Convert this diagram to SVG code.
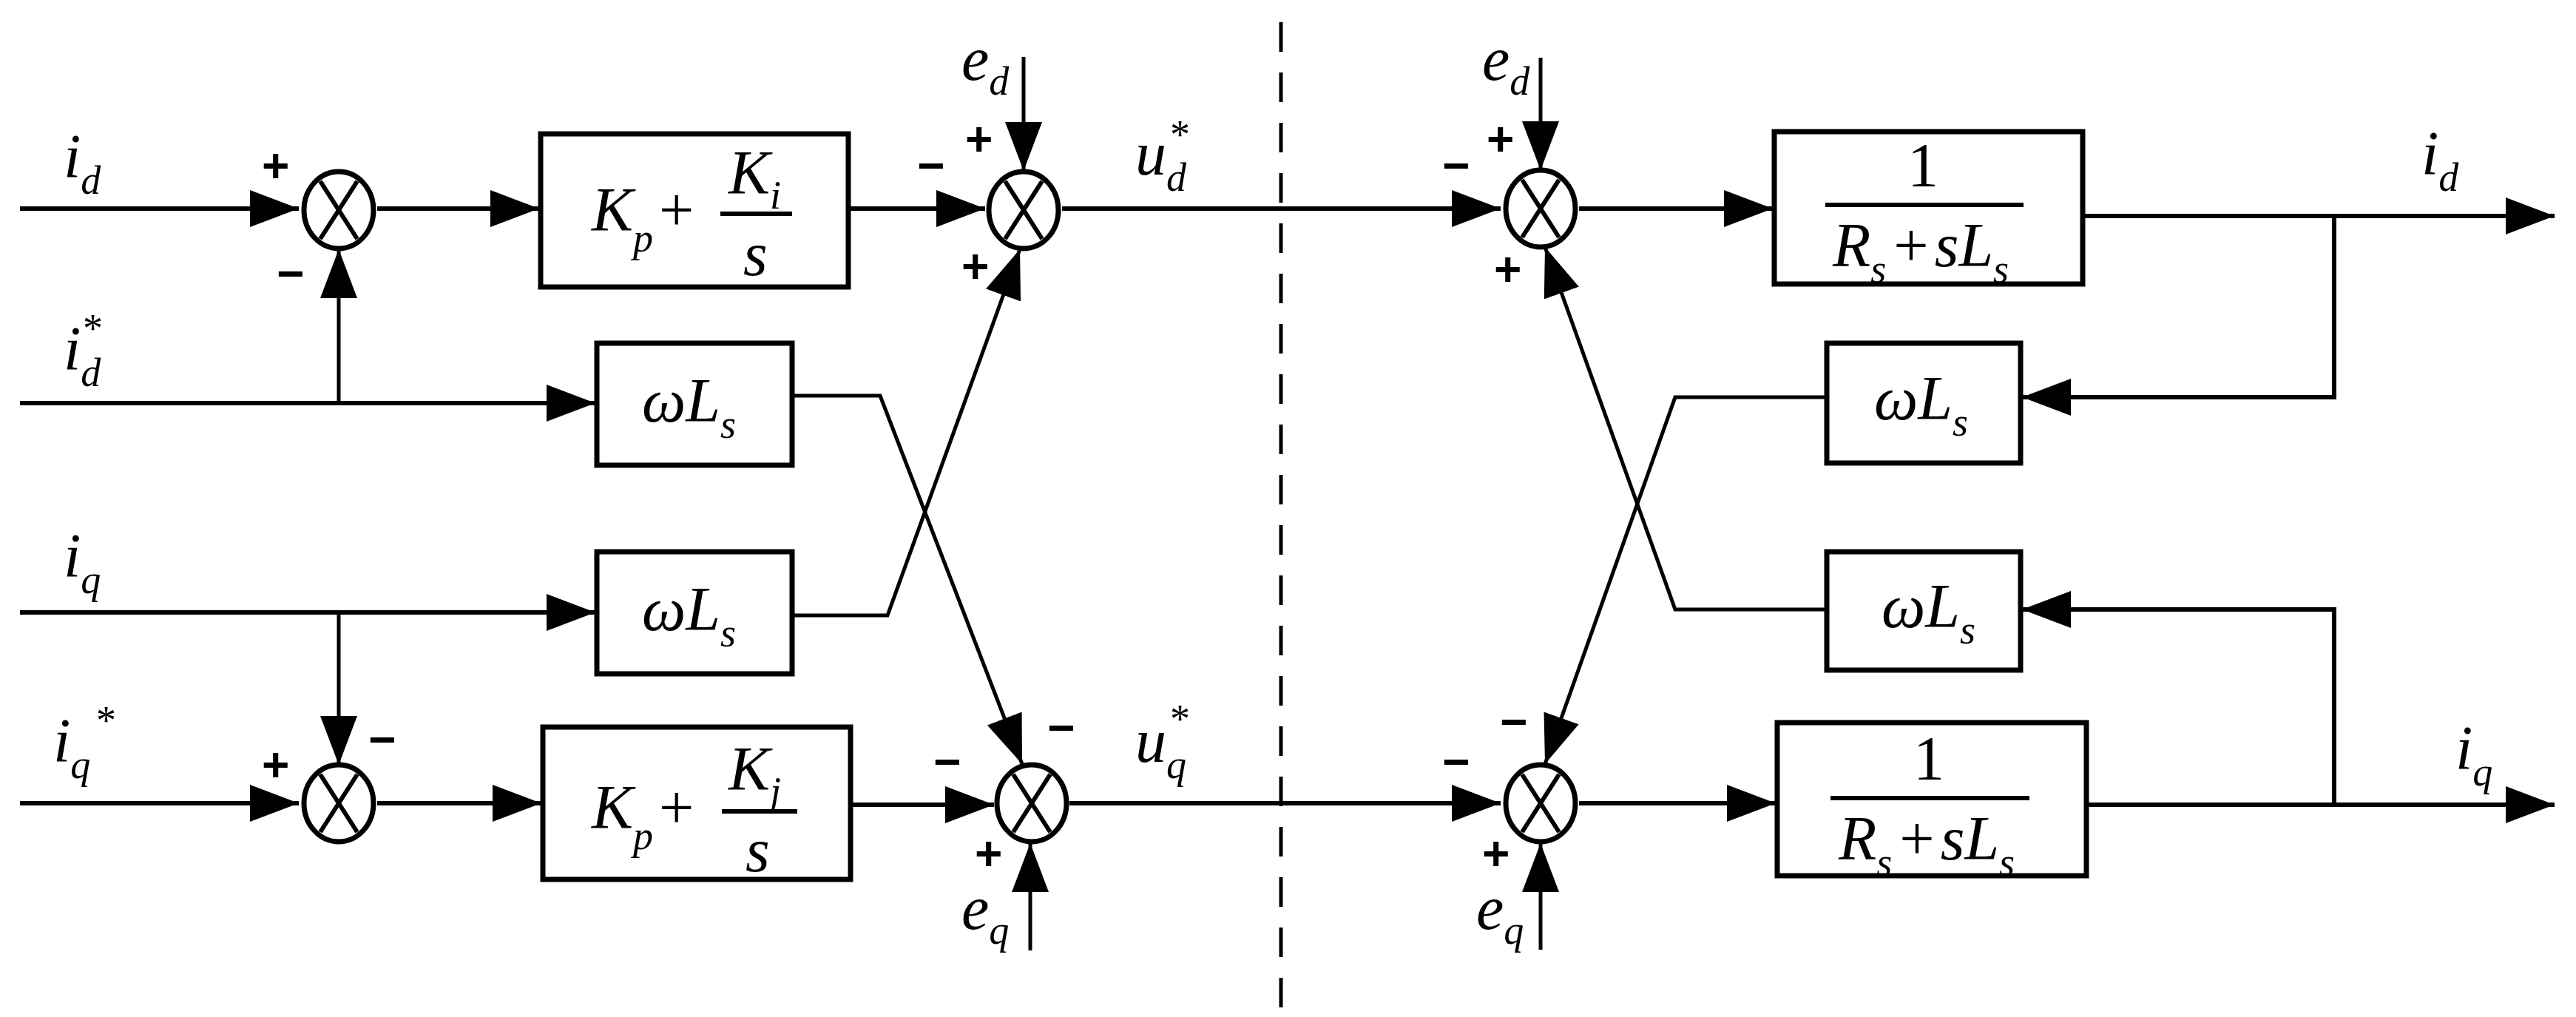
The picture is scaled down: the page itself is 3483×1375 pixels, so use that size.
<svg xmlns="http://www.w3.org/2000/svg" width="3483" height="1375" viewBox="0 0 3483 1375">
<style>
.w{stroke:#000;stroke-width:6;fill:none}
.t{stroke:#000;stroke-width:5;fill:none}
.b{stroke:#000;stroke-width:7;fill:#fff}
.s{stroke:#000;stroke-width:7;fill:#fff}
.x{stroke:#000;stroke-width:6}
text{font-family:"Liberation Serif","Times New Roman",serif;font-style:italic;fill:#000}
.m{font-size:84px}
.sub{font-size:54px}
.r{font-style:normal}
.sg{font-family:"Liberation Sans",sans-serif;font-style:normal;font-weight:bold;font-size:64px}
</style>
<defs>
<marker id="a" markerUnits="userSpaceOnUse" markerWidth="70" markerHeight="52" refX="66" refY="25" orient="auto"><path d="M0,0 L66,25 L0,50 z" fill="#000"/></marker>
</defs>
<g id="connectors">
<path class="w" d="M27,282 H404" marker-end="url(#a)"/>
<path class="w" d="M510,282 H729" marker-end="url(#a)"/>
<path class="w" d="M1147,282 H1332" marker-end="url(#a)"/>
<path class="t" d="M1384,77 V231" marker-end="url(#a)"/>
<path class="w" d="M1436,282 H2029" marker-end="url(#a)"/>
<path class="w" d="M27,545 H805" marker-end="url(#a)"/>
<path class="t" d="M458,545 V337" marker-end="url(#a)"/>
<path class="w" d="M27,828 H805" marker-end="url(#a)"/>
<path class="t" d="M458,828 V1034" marker-end="url(#a)"/>
<path class="w" d="M27,1086 H404" marker-end="url(#a)"/>
<path class="w" d="M510,1086 H732" marker-end="url(#a)"/>
<path class="w" d="M1150,1088 H1344" marker-end="url(#a)"/>
<path class="t" d="M1393,1285 V1140" marker-end="url(#a)"/>
<path class="w" d="M1446,1086 H2029" marker-end="url(#a)"/>
<path class="t" d="M1071,535 H1190 L1382,1033" marker-end="url(#a)"/>
<path class="t" d="M1071,832 H1200 L1379,337" marker-end="url(#a)"/>
<path class="t" d="M2083,78 V230" marker-end="url(#a)"/>
<path class="w" d="M2135,282 H2397" marker-end="url(#a)"/>
<path class="w" d="M2816,292 H3454" marker-end="url(#a)"/>
<path class="w" d="M3156,292 V537 H2734" marker-end="url(#a)"/>
<path class="t" d="M2470,537 H2265 L2089,1033" marker-end="url(#a)"/>
<path class="t" d="M2470,824 H2265 L2089,334" marker-end="url(#a)"/>
<path class="w" d="M2135,1086 H2401" marker-end="url(#a)"/>
<path class="w" d="M2821,1088 H3454" marker-end="url(#a)"/>
<path class="w" d="M3156,1088 V824 H2734" marker-end="url(#a)"/>
<path class="t" d="M2083,1284 V1140" marker-end="url(#a)"/>
<path class="t" d="M1732,30 V1375" stroke-dasharray="40,28"/>
</g>
<g id="S1"><ellipse class="s" cx="458" cy="284" rx="47" ry="52"/><path class="x" d="M433,245 L483,323 M483,245 L433,323"/></g>
<g id="S2"><ellipse class="s" cx="1384" cy="284" rx="47" ry="52"/><path class="x" d="M1359,245 L1409,323 M1409,245 L1359,323"/></g>
<g id="S3"><ellipse class="s" cx="458" cy="1086" rx="47" ry="52"/><path class="x" d="M433,1047 L483,1125 M483,1047 L433,1125"/></g>
<g id="S4"><ellipse class="s" cx="1395" cy="1086" rx="47" ry="52"/><path class="x" d="M1370,1047 L1420,1125 M1420,1047 L1370,1125"/></g>
<g id="S5"><ellipse class="s" cx="2083" cy="282" rx="47" ry="52"/><path class="x" d="M2058,243 L2108,321 M2108,243 L2058,321"/></g>
<g id="S6"><ellipse class="s" cx="2083" cy="1086" rx="47" ry="52"/><path class="x" d="M2058,1047 L2108,1125 M2108,1047 L2058,1125"/></g>
<g id="PI1"><rect class="b" x="731" y="181" width="416" height="207"/>
<text class="m" x="800" y="312">K<tspan class="sub" dy="28">p</tspan><tspan class="r" dy="-28" dx="8">+</tspan></text>
<path class="x" d="M974,289 H1071"/><text class="m" x="985" y="262">K<tspan class="sub" dy="20">i</tspan></text><text class="m" x="1005" y="372">s</text></g>
<g id="PI2"><rect class="b" x="734" y="983" width="416" height="206"/>
<text class="m" x="800" y="1120">K<tspan class="sub" dy="28">p</tspan><tspan class="r" dy="-28" dx="8">+</tspan></text>
<path class="x" d="M976,1097 H1078"/><text class="m" x="985" y="1068">K<tspan class="sub" dy="20">j</tspan></text><text class="m" x="1008" y="1178">s</text></g>
<g id="WL1"><rect class="b" x="807" y="464" width="264" height="165"/><text class="m" x="868" y="570">ωL<tspan class="sub" dy="22">s</tspan></text></g>
<g id="WL2"><rect class="b" x="807" y="746" width="264" height="165"/><text class="m" x="868" y="852">ωL<tspan class="sub" dy="22">s</tspan></text></g>
<g id="WL3"><rect class="b" x="2470" y="464" width="262" height="162"/><text class="m" x="2534" y="567">ωL<tspan class="sub" dy="22">s</tspan></text></g>
<g id="WL4"><rect class="b" x="2470" y="746" width="262" height="160"/><text class="m" x="2544" y="848">ωL<tspan class="sub" dy="22">s</tspan></text></g>
<g id="G1"><rect class="b" x="2399" y="178" width="417" height="206"/><text class="m r" x="2600" y="252" text-anchor="middle">1</text>
<path class="x" d="M2468,277 H2736"/><text class="m" x="2478" y="360">R<tspan class="sub" dy="22">s</tspan><tspan class="r" dy="-22" dx="10">+</tspan><tspan dx="8">sL</tspan><tspan class="sub" dy="22">s</tspan></text></g>
<g id="G2"><rect class="b" x="2403" y="977" width="418" height="207"/><text class="m r" x="2608" y="1054" text-anchor="middle">1</text>
<path class="x" d="M2475,1079 H2744"/><text class="m" x="2486" y="1162">R<tspan class="sub" dy="22">s</tspan><tspan class="r" dy="-22" dx="10">+</tspan><tspan dx="8">sL</tspan><tspan class="sub" dy="22">s</tspan></text></g>
<g id="labels">
<text class="m" x="86" y="240">i<tspan class="sub" dy="22">d</tspan></text>
<text class="m" x="86" y="500">i<tspan class="sub" dy="22">d</tspan></text><text class="sub r" x="112" y="462">*</text>
<text class="m" x="86" y="780">i<tspan class="sub" dy="22">q</tspan></text>
<text class="m" x="72" y="1030">i<tspan class="sub" dy="22">q</tspan></text><text class="sub r" x="130" y="992">*</text>
<text class="m" x="1300" y="108">e<tspan class="sub" dy="20">d</tspan></text>
<text class="m" x="1300" y="1256">e<tspan class="sub" dy="20">q</tspan></text>
<text class="m" x="1535" y="236">u<tspan class="sub" dy="22">d</tspan></text><text class="sub r" x="1582" y="200">*</text>
<text class="m" x="1535" y="1030">u<tspan class="sub" dy="22">q</tspan></text><text class="sub r" x="1582" y="990">*</text>
<text class="m" x="2004" y="108">e<tspan class="sub" dy="20">d</tspan></text>
<text class="m" x="1996" y="1256">e<tspan class="sub" dy="20">q</tspan></text>
<text class="m" x="3274" y="236">i<tspan class="sub" dy="22">d</tspan></text>
<text class="m" x="3320" y="1040">i<tspan class="sub" dy="22">q</tspan></text>
</g>
<g id="signs">
<text class="sg" x="354" y="246">+</text><text class="sg" x="374" y="392">−</text>
<text class="sg" x="1240" y="246">−</text><text class="sg" x="1305" y="210">+</text><text class="sg" x="1300" y="382">+</text>
<text class="sg" x="354" y="1056">+</text><text class="sg" x="498" y="1022">−</text>
<text class="sg" x="1262" y="1052">−</text><text class="sg" x="1416" y="1006">−</text><text class="sg" x="1318" y="1176">+</text>
<text class="sg" x="1950" y="246">−</text><text class="sg" x="2010" y="210">+</text><text class="sg" x="2020" y="386">+</text>
<text class="sg" x="2028" y="998">−</text><text class="sg" x="1950" y="1052">−</text><text class="sg" x="2004" y="1176">+</text>
</g>
</svg>
